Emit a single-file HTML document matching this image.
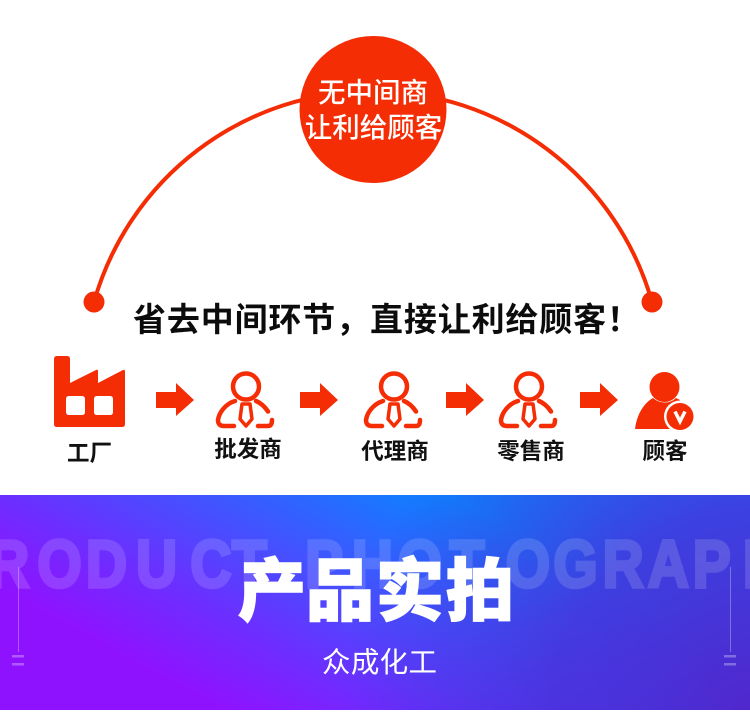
<!DOCTYPE html>
<html><head><meta charset="utf-8">
<style>
html,body{margin:0;padding:0;background:#fff}
#p{position:relative;width:750px;height:718px;overflow:hidden;background:#fff}
svg{position:absolute;left:0;top:0}
</style></head>
<body><div id="p">
<svg width="750" height="718" viewBox="0 0 750 718" xmlns="http://www.w3.org/2000/svg">
<defs>
<linearGradient id="g1" gradientUnits="userSpaceOnUse" x1="280" y1="740" x2="420" y2="480">
<stop offset="0" stop-color="#8f12ff"/><stop offset=".3" stop-color="#6a30ff"/><stop offset="1" stop-color="#0a84ff"/>
</linearGradient>
<radialGradient id="g2" gradientUnits="userSpaceOnUse" cx="760" cy="720" r="420">
<stop offset="0" stop-color="#5126cc"/><stop offset=".5" stop-color="#4d2ad6" stop-opacity=".75"/><stop offset="1" stop-color="#4d2ad6" stop-opacity="0"/>
</radialGradient>
<g id="person" fill="none" stroke="#f52d05" stroke-width="4.500" stroke-linecap="round" stroke-linejoin="round">
<circle cx="246" cy="386.500" r="13"/>
<path d="M235 401C225 404 219 413 218 420C218 424 220 426 224 426H234"/>
<path d="M256 401C261 403 265 407 268 411.500"/>
<path d="M258 426H268C271 426 272 424 272 420"/>
<path d="M242 404H250L252 419L246 426L240 419Z" stroke-width="3.500"/>
</g>
</defs>

<path d="M94 302A290 290 0 0 1 652 302" fill="none" stroke="#f52d05" stroke-width="4"/>
<circle cx="94" cy="302" r="10.500" fill="#f52d05"/>
<circle cx="652" cy="302" r="10.500" fill="#f52d05"/>
<circle cx="373" cy="109.500" r="73.500" fill="#f52d05"/>
<g font-family="'Liberation Sans','Noto Sans CJK SC',sans-serif" fill="#fff" font-size="27.500" font-weight="500" text-anchor="middle">
<text x="373" y="102">无中间商</text>
<text x="373.500" y="137">让利给顾客</text>
</g>

<text x="133" y="331" font-family="'Liberation Sans','Noto Sans CJK SC',sans-serif" font-weight="700" font-size="33" fill="#0c0c0c" textLength="507" lengthAdjust="spacing">省去中间环节，直接让利给顾客！</text>

<path fill="#f52d05" fill-rule="evenodd" d="M57 356H67Q70 356 70 359V383L96 370Q98 369 98 371V383L123 370Q125 369 125 372V424Q125 427 122 427H57Q54 427 54 424V359Q54 356 57 356ZM69 396Q66 396 66 399V412Q66 415 69 415H82Q85 415 85 412V399Q85 396 82 396ZM97 396Q94 396 94 399V412Q94 415 97 415H110Q113 415 113 412V399Q113 396 110 396Z"/>

<g fill="#f52d05">
<path d="M156 392H176V383L194 400L176 416V408H156Z"/>
<path d="M300 392H320V383L338 400L320 416V408H300Z"/>
<path d="M446 392H466V383L484 400L466 416V408H446Z"/>
<path d="M580 392H600V383L618 400L600 416V408H580Z"/>
</g>

<use href="#person"/>
<use href="#person" x="148"/>
<use href="#person" x="283"/>

<circle cx="664.500" cy="387" r="15" fill="#f52d05"/>
<path d="M653 398C644 403 637 414 635 429H672L680 400L676 398C670 404 660 404 653 398Z" fill="#f52d05"/>
<circle cx="680" cy="416.500" r="16" fill="#fff"/>
<circle cx="680" cy="416.500" r="13.500" fill="#f52d05"/>
<path d="M675 411.500L680 421.500L685 411.500" fill="none" stroke="#fff" stroke-width="3.500"/>

<g font-family="'Liberation Sans','Noto Sans CJK SC',sans-serif" font-size="22.500" font-weight="700" fill="#111" text-anchor="middle">
<text x="89.500" y="461">工厂</text>
<text x="248" y="457">批发商</text>
<text x="395" y="459">代理商</text>
<text x="531" y="459">零售商</text>
<text x="665" y="459">顾客</text>
</g>

<rect x="0" y="495" width="750" height="215" fill="url(#g1)"/>
<rect x="0" y="495" width="750" height="215" fill="url(#g2)"/>
<text transform="scale(.85 1)" y="587" font-family="'Liberation Sans',sans-serif" font-weight="700" font-size="67" fill="#fff" stroke="#fff" stroke-width="3.500" opacity=".14" x="-14 44 101 160 224 273 359 414 468 529 595 651 709 762 815 874">RODUCTPHOTOGRAPH</text>

<g fill="#fff" stroke="#fff" stroke-width="1.500" font-family="'Liberation Sans','Noto Sans CJK SC',sans-serif" font-weight="900" font-size="68">
<text x="238" y="615">产</text>
<text x="306" y="615">品</text>
<text x="376" y="615">实</text>
<text x="446" y="615">拍</text>
</g>
<text x="322" y="672" font-family="'Liberation Sans','Noto Sans CJK SC',sans-serif" font-size="28.500" fill="#fff" textLength="115" lengthAdjust="spacing">众成化工</text>

<g fill="#fff" fill-opacity=".3">
<rect x="18" y="567" width="1" height="85"/>
<rect x="12" y="655" width="12" height="2.500"/>
<rect x="12" y="663" width="12" height="2.500"/>
<rect x="730" y="567" width="1" height="85"/>
<rect x="724" y="655" width="12" height="2.500"/>
<rect x="724" y="663" width="12" height="2.500"/>
</g>
</svg>
</div></body></html>
